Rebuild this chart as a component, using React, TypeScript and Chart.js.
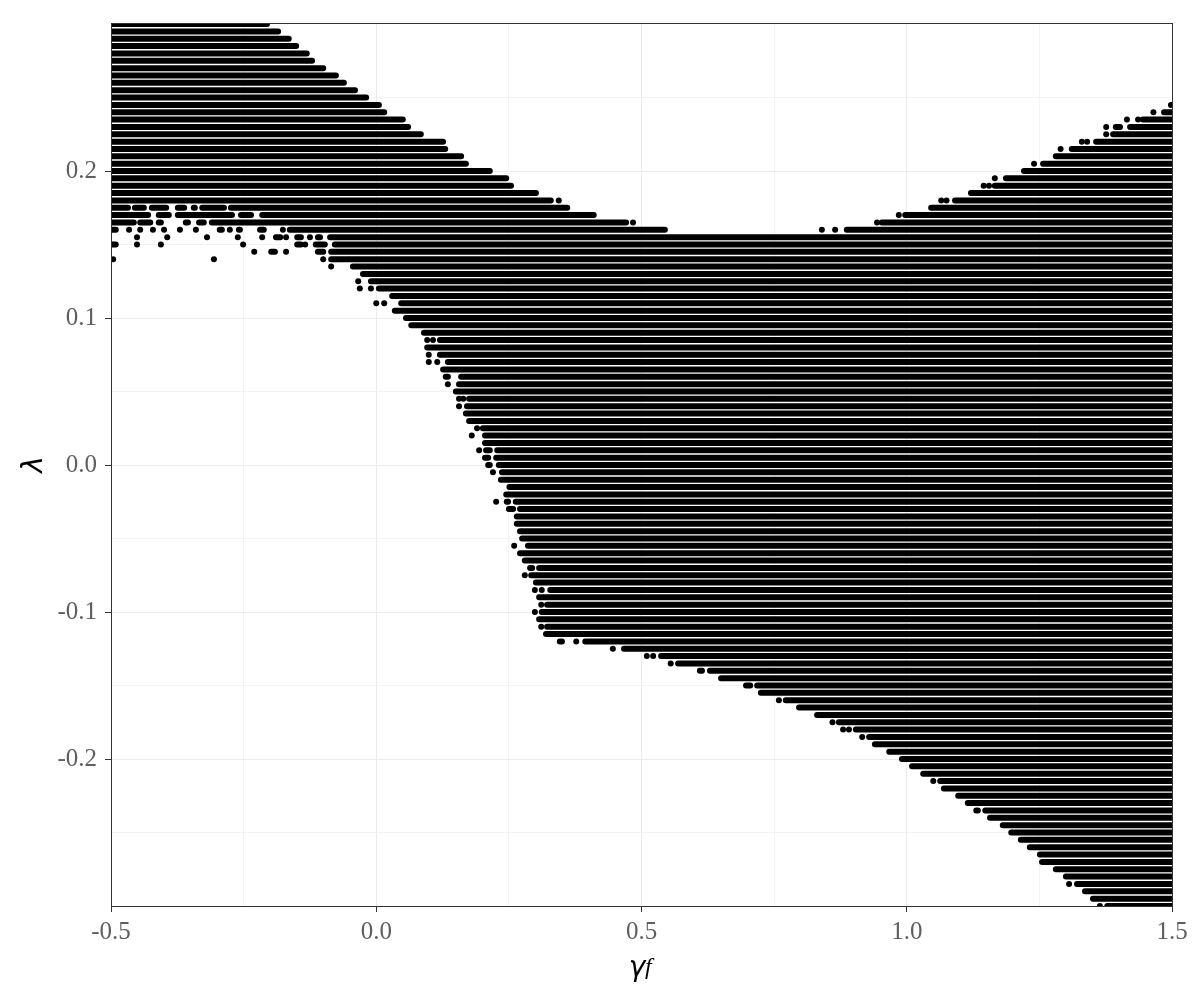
import React, { useEffect, useRef } from "react";
import { Chart, registerables } from "chart.js";

Chart.register(...registerables);

type Span = number[]; // [from, to] is a run of points, [x] is one lone point
type Row = [number, Span[]];

const xMajorLabels = ["-0.5", "0.0", "0.5", "1.0", "1.5"];
const yMajorLabels = ["-0.2", "-0.1", "0.0", "0.1", "0.2"];

const upperRows: Row[] = [
  [0.3, [[-0.5, -0.206]]],
  [0.295, [[-0.5, -0.185]]],
  [0.29, [[-0.5, -0.165]]],
  [0.285, [[-0.5, -0.151]]],
  [0.28, [[-0.5, -0.131]]],
  [0.275, [[-0.5, -0.121]]],
  [0.27, [[-0.5, -0.1]]],
  [0.265, [[-0.5, -0.076]]],
  [0.26, [[-0.5, -0.061]]],
  [0.255, [[-0.5, -0.04]]],
  [0.25, [[-0.5, -0.019]]],
  [0.245, [[-0.5, 0.005], [1.498]]],
  [0.24, [[-0.5, 0.015], [1.465], [1.485, 1.5]]],
  [0.235, [[-0.5, 0.05], [1.415], [1.436], [1.445, 1.5]]],
  [0.23, [[-0.5, 0.06], [1.376], [1.394, 1.402], [1.421, 1.5]]],
  [0.225, [[-0.5, 0.084], [1.376], [1.389, 1.5]]],
  [0.22, [[-0.5, 0.126], [1.33], [1.34], [1.357, 1.5]]],
  [0.215, [[-0.5, 0.13], [1.29], [1.311, 1.5]]],
  [0.21, [[-0.5, 0.16], [1.281, 1.5]]],
  [0.205, [[-0.5, 0.169], [1.24], [1.257, 1.5]]],
  [0.2, [[-0.5, 0.214], [1.221, 1.5]]],
  [0.195, [[-0.5, 0.245], [1.166], [1.187, 1.5]]],
  [0.19, [[-0.5, 0.254], [1.145], [1.155], [1.166, 1.5]]],
  [0.185, [[-0.5, 0.301], [1.121, 1.5]]],
  [0.18, [[-0.5, 0.329], [0.344], [1.065], [1.075], [1.091, 1.5]]],
  [0.175, [[-0.5, -0.468], [-0.455, -0.438], [-0.423, -0.396], [-0.374, -0.362], [-0.344, -0.342], [-0.328, -0.287], [-0.274, 0.36], [1.046, 1.5]]],
  [0.17, [[-0.5, -0.43], [-0.41, -0.391], [-0.374, -0.272], [-0.255, -0.236], [-0.215, 0.41], [0.985], [0.997, 1.5]]],
  [0.165, [[-0.5, -0.457], [-0.445, -0.426], [-0.41, -0.406], [-0.359, -0.355], [-0.334, -0.325], [-0.31, 0.471], [0.484], [0.944], [0.953, 1.5]]],
  [0.16, [[-0.5, -0.491], [-0.466], [-0.445], [-0.421], [-0.4], [-0.37], [-0.34], [-0.295, -0.291], [-0.276], [-0.259, -0.257], [-0.219, -0.212], [-0.176], [-0.163, 0.544], [0.84], [0.865], [0.887, 1.5]]],
  [0.155, [[-0.451], [-0.394], [-0.319], [-0.261], [-0.215], [-0.189, -0.181], [-0.17], [-0.149, -0.142], [-0.125], [-0.11, -0.106], [-0.087, 1.5]]],
  [0.15, [[-0.5, -0.491], [-0.451], [-0.406], [-0.251], [-0.149, -0.142], [-0.134], [-0.114, -0.097], [-0.078, 1.5]]],
  [0.145, [[-0.23], [-0.198, -0.191], [-0.17], [-0.11, -0.1], [-0.085, 1.5]]],
  [0.14, [[-0.496], [-0.306], [-0.1], [-0.085, 1.5]]],
  [0.135, [[-0.085], [-0.044, 1.5]]],
];

const middleRows: Row[] = [
  [0.13, [[-0.025, 1.5]]],
  [0.125, [[-0.034], [-0.01, 1.5]]],
  [0.12, [[-0.031], [-0.01], [0.005, 1.5]]],
  [0.115, [[0.03, 1.5]]],
  [0.11, [[0.0], [0.015], [0.047, 1.5]]],
  [0.105, [[0.035, 1.5]]],
  [0.1, [[0.056, 1.5]]],
  [0.095, [[0.066, 1.5]]],
  [0.09, [[0.09, 1.5]]],
  [0.085, [[0.096], [0.107], [0.12, 1.5]]],
  [0.08, [[0.096, 1.5]]],
  [0.075, [[0.099], [0.12, 1.5]]],
  [0.07, [[0.099], [0.115], [0.135, 1.5]]],
  [0.065, [[0.126, 1.5]]],
  [0.06, [[0.131, 0.135], [0.16, 1.5]]],
  [0.055, [[0.135], [0.156, 1.5]]],
  [0.05, [[0.15, 1.5]]],
  [0.045, [[0.156], [0.164], [0.175, 1.5]]],
  [0.04, [[0.156], [0.171, 1.5]]],
  [0.035, [[0.169, 1.5]]],
  [0.03, [[0.175, 1.5]]],
  [0.025, [[0.19], [0.201, 1.5]]],
  [0.02, [[0.18], [0.205, 1.5]]],
  [0.015, [[0.205, 1.5]]],
  [0.01, [[0.194], [0.207, 0.214], [0.228, 1.5]]],
  [0.005, [[0.205, 0.211], [0.226, 1.5]]],
  [0.0, [[0.211, 0.214], [0.231, 1.5]]],
  [-0.005, [[0.22], [0.237, 1.5]]],
  [-0.01, [[0.235, 1.5]]],
  [-0.015, [[0.251, 1.5]]],
  [-0.02, [[0.245, 1.5]]],
  [-0.025, [[0.226], [0.246, 0.2485], [0.263, 1.5]]],
  [-0.03, [[0.25, 0.258], [0.271, 1.5]]],
  [-0.035, [[0.265, 1.5]]],
  [-0.04, [[0.265, 1.5]]],
  [-0.045, [[0.271, 1.5]]],
  [-0.05, [[0.275, 1.5]]],
  [-0.055, [[0.26], [0.286, 1.5]]],
  [-0.06, [[0.271, 1.5]]],
  [-0.065, [[0.28, 1.5]]],
  [-0.07, [[0.29, 0.294], [0.307, 1.5]]],
  [-0.075, [[0.28], [0.292, 1.5]]],
  [-0.08, [[0.301, 1.5]]],
  [-0.085, [[0.299], [0.312], [0.328, 1.5]]],
  [-0.09, [[0.307, 1.5]]],
  [-0.095, [[0.311], [0.322, 1.5]]],
  [-0.1, [[0.299], [0.312, 1.5]]],
  [-0.105, [[0.307, 1.5]]],
  [-0.11, [[0.311], [0.322, 1.5]]],
  [-0.115, [[0.32, 1.5]]],
];

const lowerRows: Row[] = [
  [-0.12, [[0.346, 0.35], [0.377, 0.378], [0.394, 1.5]]],
  [-0.125, [[0.446], [0.467, 1.5]]],
  [-0.13, [[0.51], [0.522], [0.537, 1.5]]],
  [-0.135, [[0.555], [0.569, 1.5]]],
  [-0.14, [[0.61, 0.614], [0.629, 1.5]]],
  [-0.145, [[0.65, 1.5]]],
  [-0.15, [[0.697, 0.705], [0.718, 1.5]]],
  [-0.155, [[0.725, 1.5]]],
  [-0.16, [[0.759], [0.772, 1.5]]],
  [-0.165, [[0.797, 1.5]]],
  [-0.17, [[0.831, 1.5]]],
  [-0.175, [[0.86], [0.872, 1.5]]],
  [-0.18, [[0.88], [0.891], [0.904, 1.5]]],
  [-0.185, [[0.916], [0.929, 1.5]]],
  [-0.19, [[0.94, 1.5]]],
  [-0.195, [[0.967, 1.5]]],
  [-0.2, [[0.991, 1.5]]],
  [-0.205, [[1.01, 1.5]]],
  [-0.21, [[1.031, 1.5]]],
  [-0.215, [[1.05], [1.063, 1.5]]],
  [-0.22, [[1.07, 1.5]]],
  [-0.225, [[1.097, 1.5]]],
  [-0.23, [[1.115, 1.5]]],
  [-0.235, [[1.131, 1.134], [1.148, 1.5]]],
  [-0.24, [[1.157, 1.5]]],
  [-0.245, [[1.181, 1.5]]],
  [-0.25, [[1.197, 1.5]]],
  [-0.255, [[1.215, 1.5]]],
  [-0.26, [[1.232, 1.5]]],
  [-0.265, [[1.251, 1.5]]],
  [-0.27, [[1.255, 1.5]]],
  [-0.275, [[1.281, 1.5]]],
  [-0.28, [[1.3, 1.5]]],
  [-0.285, [[1.306], [1.321, 1.5]]],
  [-0.29, [[1.336, 1.5]]],
  [-0.295, [[1.351, 1.5]]],
  [-0.3, [[1.364], [1.378, 1.5]]],
];

const allRows: Row[] = [...upperRows, ...middleRows, ...lowerRows];

const runs: { x: number | null; y: number | null }[] = [];
const lonePoints: { x: number; y: number }[] = [];
for (const [lambda, spans] of allRows) {
  for (const s of spans) {
    if (s.length === 1) {
      lonePoints.push({ x: s[0], y: lambda });
    } else {
      runs.push({ x: s[0], y: lambda }, { x: s[1], y: lambda }, { x: null, y: null });
    }
  }
}

const SERIF = '"Liberation Serif", serif';
const TITLE_FONT = '"DejaVu Sans", sans-serif';
const TICK_GREY = "#5f5f5f";
const DARK = "#333333";

const frameAndSubscript = {
  id: "frameAndSubscript",
  afterDraw(chart: any) {
    const { ctx, chartArea: a } = chart;
    ctx.save();
    ctx.strokeStyle = DARK;
    ctx.lineWidth = 1;
    ctx.strokeRect(a.left + 0.5, a.top + 0.5, a.right - a.left, a.bottom - a.top);
    ctx.fillStyle = "#000000";
    ctx.font = `italic 24px ${SERIF}`;
    ctx.textAlign = "left";
    ctx.textBaseline = "alphabetic";
    ctx.fillText("f", 645, 974);
    ctx.restore();
  },
};

const matches = (value: number, labels: string[]) =>
  labels.find((l) => Math.abs(parseFloat(l) - value) < 1e-6);

export default function App() {
  const ref = useRef<HTMLCanvasElement>(null);
  useEffect(() => {
    document.body.style.margin = "0";
    const chart = new Chart(ref.current as HTMLCanvasElement, {
      type: "line",
      plugins: [frameAndSubscript],
      data: {
        datasets: [
          {
            label: "runs",
            data: runs as any,
            borderColor: "#000000",
            borderWidth: 6,
            borderCapStyle: "round",
            pointRadius: 0,
            spanGaps: false,
            clip: 0,
          },
          {
            label: "points",
            data: lonePoints as any,
            showLine: false,
            backgroundColor: "#000000",
            borderWidth: 0,
            pointRadius: 3,
            clip: 0,
          },
        ],
      },
      options: {
        animation: false,
        responsive: false,
        layout: { padding: { top: 23, right: 28, left: 0, bottom: 0 } },
        plugins: { legend: { display: false }, tooltip: { enabled: false } },
        scales: {
          x: {
            type: "linear",
            min: -0.5,
            max: 1.5,
            afterFit(s: any) {
              s.height = 94;
            },
            border: { display: false },
            grid: {
              color: (c: any) => (matches(c.tick?.value, xMajorLabels) ? "#ebebeb" : "#f3f3f3"),
              tickColor: (c: any) => (matches(c.tick?.value, xMajorLabels) ? DARK : "rgba(0,0,0,0)"),
              tickLength: 6,
            },
            ticks: {
              stepSize: 0.25,
              autoSkip: false,
              maxRotation: 0,
              padding: 5,
              color: TICK_GREY,
              font: { family: SERIF, size: 25 },
              callback: (v: any) => matches(Number(v), xMajorLabels) ?? "",
            },
            title: {
              display: true,
              text: "γ\u00A0",
              color: "#000000",
              font: { family: TITLE_FONT, size: 28, style: "italic" },
              padding: { top: 0, bottom: 14 },
            },
          },
          y: {
            type: "linear",
            min: -0.3,
            max: 0.3007,
            afterFit(s: any) {
              s.width = 111;
            },
            border: { display: false },
            grid: {
              color: (c: any) => (matches(c.tick?.value, yMajorLabels) ? "#ebebeb" : "#f3f3f3"),
              tickColor: (c: any) => (matches(c.tick?.value, yMajorLabels) ? DARK : "rgba(0,0,0,0)"),
              tickLength: 6,
            },
            ticks: {
              stepSize: 0.05,
              autoSkip: false,
              padding: 8,
              color: TICK_GREY,
              font: { family: SERIF, size: 25 },
              callback: (v: any) => matches(Number(v), yMajorLabels) ?? "",
            },
            title: {
              display: true,
              text: "λ",
              color: "#000000",
              font: { family: TITLE_FONT, size: 28, style: "italic" },
              padding: { top: 18, bottom: 0 },
            },
          },
        },
      },
    } as any);
    return () => chart.destroy();
  }, []);
  return <canvas ref={ref} width={1200} height={1000} style={{ display: "block" }} />;
}
